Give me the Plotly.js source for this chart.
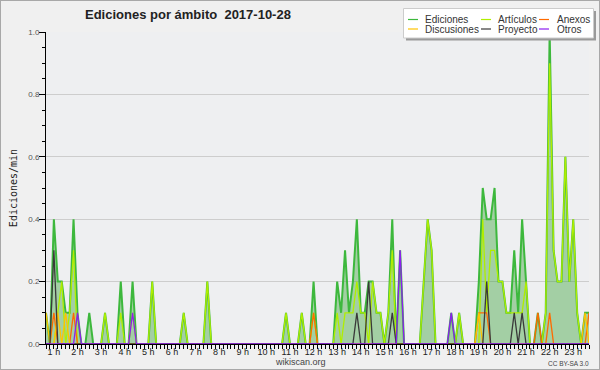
<!DOCTYPE html>
<html>
<head>
<meta charset="utf-8">
<script src="https://cdn.plot.ly/plotly-3.0.1.min.js"></script>
<style>
html, body { margin: 0; padding: 0; background: #ffffff; }
#chart { width: 598px; height: 368px; border: 1px solid #a8a8a8; }
</style>
</head>
<body>
<div id="chart"></div>
<script>
// ---- DATA: edits per minute, 10-minute bins from 00:40 (bin 4) to 23:40 (bin 142) ----
const firstBin = 4;
const lastBin = 142;
const hourTicks = [1,2,3,4,5,6,7,8,9,10,11,12,13,14,15,16,17,18,19,20,21,22,23];
const hourLabels = ['1 h','2 h','3 h','4 h','5 h','6 h','7 h','8 h','9 h','10 h','11 h','12 h',
                    '13 h','14 h','15 h','16 h','17 h','18 h','19 h','20 h','21 h','22 h','23 h'];
const seriesNames  = ['Ediciones', 'Artículos', 'Anexos', 'Discusiones', 'Proyecto', 'Otros'];
const seriesColors = ['#3db83d', '#b0ee00', '#ff6a00', '#ffc400', '#3a3a3a', '#8c1ef0'];

// one row per hour (:00 :10 :20 :30 :40 :50); first row starts at 00:40
const ediciones = [
  0.1, 0,
  0.4, 0.2, 0.2, 0.1, 0.1, 0.4,
  0.1, 0, 0, 0.1, 0, 0,
  0, 0.1, 0, 0, 0, 0.2,
  0, 0, 0.2, 0, 0, 0,
  0, 0.2, 0, 0, 0, 0,
  0, 0, 0, 0.1, 0, 0,
  0, 0, 0, 0.2, 0, 0,
  0, 0, 0, 0, 0, 0,
  0, 0, 0, 0, 0, 0,
  0, 0, 0, 0, 0, 0.1,
  0, 0, 0, 0.1, 0, 0,
  0.2, 0, 0, 0, 0, 0,
  0.2, 0.1, 0.3, 0.1, 0.2, 0.4,
  0.1, 0.1, 0.2, 0.2, 0.1, 0.1,
  0, 0.1, 0.4, 0, 0.3, 0,
  0, 0, 0, 0, 0.2, 0.4,
  0.3, 0, 0, 0, 0, 0.1,
  0, 0.1, 0, 0, 0, 0,
  0.2, 0.5, 0.4, 0.4, 0.5, 0.2,
  0.2, 0.1, 0.1, 0.3, 0.1, 0.4,
  0.2, 0, 0, 0.1, 0, 0.1,
  1.0, 0.3, 0.2, 0.2, 0.6, 0.2,
  0.4, 0.1, 0, 0.1, 0.1
];
const articulos = [
  0, 0,
  0, 0.1, 0.2, 0, 0.1, 0.3,
  0, 0, 0, 0, 0, 0,
  0, 0.1, 0, 0, 0, 0.1,
  0, 0, 0.1, 0, 0, 0,
  0, 0.2, 0, 0, 0, 0,
  0, 0, 0, 0.1, 0, 0,
  0, 0, 0, 0.2, 0, 0,
  0, 0, 0, 0, 0, 0,
  0, 0, 0, 0, 0, 0,
  0, 0, 0, 0, 0, 0.1,
  0, 0, 0, 0.1, 0, 0,
  0.1, 0, 0, 0, 0, 0,
  0.1, 0, 0.1, 0.1, 0.1, 0.2,
  0.1, 0.1, 0, 0.2, 0.1, 0.1,
  0, 0.1, 0.3, 0, 0, 0,
  0, 0, 0, 0, 0.2, 0.4,
  0.3, 0, 0, 0, 0, 0,
  0, 0.1, 0, 0, 0, 0,
  0, 0.4, 0.1, 0.3, 0.3, 0.2,
  0.2, 0.1, 0.1, 0.1, 0.1, 0.1,
  0.2, 0, 0, 0, 0, 0.1,
  0.9, 0.3, 0.2, 0.2, 0.6, 0.2,
  0.4, 0.1, 0, 0, 0
];
const anexos = [
  0, 0,
  0.1, 0, 0, 0, 0, 0.1,
  0, 0, 0, 0, 0, 0,
  0, 0, 0, 0, 0, 0,
  0, 0, 0, 0, 0, 0,
  0, 0, 0, 0, 0, 0,
  0, 0, 0, 0, 0, 0,
  0, 0, 0, 0, 0, 0,
  0, 0, 0, 0, 0, 0,
  0, 0, 0, 0, 0, 0,
  0, 0, 0, 0, 0, 0,
  0, 0, 0, 0, 0, 0,
  0.1, 0, 0, 0, 0, 0,
  0, 0, 0, 0, 0, 0,
  0, 0, 0, 0, 0, 0,
  0, 0, 0, 0, 0, 0,
  0, 0, 0, 0, 0, 0,
  0, 0, 0, 0, 0, 0,
  0, 0, 0, 0, 0, 0,
  0.1, 0.1, 0.1, 0, 0, 0,
  0, 0, 0, 0, 0, 0,
  0, 0, 0, 0.1, 0, 0,
  0.1, 0, 0, 0, 0, 0,
  0, 0, 0, 0, 0.1
];
const discusiones = [
  0.1, 0,
  0, 0.1, 0, 0.1, 0, 0,
  0, 0, 0, 0, 0, 0,
  0, 0, 0, 0, 0, 0,
  0, 0, 0, 0, 0, 0,
  0, 0, 0, 0, 0, 0,
  0, 0, 0, 0, 0, 0,
  0, 0, 0, 0, 0, 0,
  0, 0, 0, 0, 0, 0,
  0, 0, 0, 0, 0, 0,
  0, 0, 0, 0, 0, 0,
  0, 0, 0, 0, 0, 0,
  0, 0, 0, 0, 0, 0,
  0, 0, 0, 0, 0, 0,
  0, 0, 0, 0, 0, 0,
  0, 0, 0, 0, 0, 0,
  0, 0, 0, 0, 0, 0,
  0, 0, 0, 0, 0, 0,
  0, 0, 0, 0, 0, 0,
  0.1, 0, 0, 0, 0, 0,
  0, 0, 0, 0, 0, 0,
  0, 0, 0, 0, 0, 0,
  0, 0, 0, 0, 0, 0,
  0, 0, 0, 0.1, 0
];
const proyecto = [
  0, 0,
  0.3, 0, 0, 0, 0, 0,
  0, 0, 0, 0, 0, 0,
  0, 0, 0, 0, 0, 0,
  0, 0, 0, 0, 0, 0,
  0, 0, 0, 0, 0, 0,
  0, 0, 0, 0, 0, 0,
  0, 0, 0, 0, 0, 0,
  0, 0, 0, 0, 0, 0,
  0, 0, 0, 0, 0, 0,
  0, 0, 0, 0, 0, 0,
  0, 0, 0, 0, 0, 0,
  0, 0, 0, 0, 0, 0,
  0, 0, 0, 0, 0, 0.1,
  0, 0, 0.2, 0, 0, 0,
  0, 0, 0.1, 0, 0, 0,
  0, 0, 0, 0, 0, 0,
  0, 0, 0, 0, 0, 0,
  0, 0, 0, 0, 0, 0,
  0, 0, 0.2, 0, 0, 0,
  0, 0, 0, 0.1, 0, 0.1,
  0, 0, 0, 0, 0, 0,
  0, 0, 0, 0, 0, 0,
  0, 0, 0, 0, 0
];
const otros = [
  0, 0,
  0, 0, 0, 0, 0, 0,
  0.1, 0, 0, 0, 0, 0,
  0, 0, 0, 0, 0, 0,
  0, 0, 0.1, 0, 0, 0,
  0, 0, 0, 0, 0, 0,
  0, 0, 0, 0, 0, 0,
  0, 0, 0, 0, 0, 0,
  0, 0, 0, 0, 0, 0,
  0, 0, 0, 0, 0, 0,
  0, 0, 0, 0, 0, 0,
  0, 0, 0, 0, 0, 0,
  0, 0, 0, 0, 0, 0,
  0, 0, 0, 0, 0, 0,
  0, 0, 0, 0, 0, 0,
  0, 0, 0, 0, 0.3, 0,
  0, 0, 0, 0, 0, 0,
  0, 0, 0, 0, 0, 0.1,
  0, 0, 0, 0, 0, 0,
  0, 0, 0, 0, 0, 0,
  0, 0, 0, 0, 0, 0,
  0, 0, 0, 0, 0, 0,
  0, 0, 0, 0, 0, 0,
  0, 0, 0, 0, 0
];
const seriesValues = [ediciones, articulos, anexos, discusiones, proyecto, otros];

// bin positions in hours (10-minute bins)
const times = [];
for (let b = firstBin; b <= lastBin; b++) times.push(b / 6);

// ---- LAYOUT helpers (page pixels -> paper coords) ----
const FIG_W = 598, FIG_H = 368;
const L = 45, T = 31, W = 543, H = 312;
const R = FIG_W - L - W, B = FIG_H - T - H;
function px(x) { return (x - 1 - L) / W; }
function py(y) { return (T + H - (y - 1)) / H; }

const FONT = 'Liberation Sans, Arial, sans-serif';

const traces = seriesValues.map((vals, i) => {
  const t = {
    type: 'scatter', mode: 'lines', name: seriesNames[i],
    x: times, y: vals, showlegend: false, hoverinfo: 'skip',
    line: { color: seriesColors[i], width: i === 0 ? 2 : 1.3 }
  };
  if (i === 0) { t.fill = 'tozeroy'; t.fillcolor = 'rgba(50,160,50,0.40)'; }
  return t;
});

// manual legend (3 columns x 2 rows) built from series names/colours
const shapes = [
  { type: 'rect', xref: 'paper', yref: 'paper', x0: px(406), x1: px(596), y0: py(40.5), y1: py(11),
    fillcolor: '#9a9a9a', line: { width: 0 }, layer: 'above' },
  { type: 'rect', xref: 'paper', yref: 'paper', x0: px(403.5), x1: px(593.5), y0: py(38), y1: py(8.5),
    fillcolor: '#ffffff', line: { color: '#cccccc', width: 1 }, layer: 'above' }
];
const annotations = [];
const colLineX = [408, 481, 539];
const colTextX = [423, 495.5, 554.5];
const rowY = [19.5, 29];
seriesNames.forEach((name, i) => {
  const c = i % 3, r = Math.floor(i / 3);
  shapes.push({ type: 'line', xref: 'paper', yref: 'paper',
    x0: px(colLineX[c]), x1: px(colLineX[c] + 10), y0: py(rowY[r]), y1: py(rowY[r]),
    line: { color: seriesColors[i], width: 1.2 }, layer: 'above' });
  annotations.push({ xref: 'paper', yref: 'paper', x: px(colTextX[c]), y: py(rowY[r]),
    xanchor: 'left', yanchor: 'middle', showarrow: false, text: name,
    font: { family: FONT, size: 10, color: '#333333' } });
});
annotations.push({ xref: 'paper', yref: 'paper', x: px(300), y: py(362), xanchor: 'center', yanchor: 'middle',
  showarrow: false, text: 'wikiscan.org', font: { family: FONT, size: 9, color: '#444444' } });
annotations.push({ xref: 'paper', yref: 'paper', x: px(591), y: py(363), xanchor: 'right', yanchor: 'middle',
  showarrow: false, text: 'CC BY-SA 3.0', font: { family: FONT, size: 6.5, color: '#444444' } });

const layout = {
  width: FIG_W, height: FIG_H,
  margin: { l: L, r: R, t: T, b: B, pad: 0 },
  paper_bgcolor: '#f0f0f0', plot_bgcolor: '#eeeff1',
  showlegend: false,
  title: { text: 'Ediciones por ámbito\u00a0\u00a02017-10-28', xref: 'container', yref: 'container',
    x: 84 / FIG_W, xanchor: 'left', y: 1 - 13 / FIG_H, yanchor: 'middle',
    font: { family: FONT, size: 13, weight: 'bold', color: '#222222' } },
  xaxis: {
    range: [firstBin / 6, lastBin / 6], tickmode: 'array', tickvals: hourTicks, ticktext: hourLabels,
    ticks: 'outside', ticklen: 4, tickcolor: '#000', tickwidth: 1,
    tickfont: { family: FONT, size: 9, color: '#222222' }, ticklabelstandoff: -5,
    showline: true, linecolor: '#000', linewidth: 1, showgrid: false, zeroline: false,
    minor: { tickmode: 'linear', tick0: 0, dtick: 1 / 6, ticks: 'outside', ticklen: 4, tickcolor: '#000', showgrid: false },
    fixedrange: true, automargin: false
  },
  yaxis: {
    range: [0, 1], tickmode: 'linear', tick0: 0, dtick: 0.2, tickformat: '.1f',
    ticks: 'outside', ticklen: 6, tickcolor: '#000', tickwidth: 1,
    tickfont: { family: FONT, size: 8, color: '#555555' }, ticklabelstandoff: -2,
    showline: true, linecolor: '#000', linewidth: 1,
    showgrid: true, gridcolor: '#cdcdcd', gridwidth: 1, zeroline: false,
    minor: { tickmode: 'linear', tick0: 0, dtick: 0.05, ticks: 'outside', ticklen: 3, tickcolor: '#000', showgrid: false },
    title: { text: 'Ediciones/min', standoff: 8, font: { family: 'DejaVu Sans Mono, monospace', size: 10, color: '#222222' } },
    fixedrange: true, automargin: false
  },
  shapes: shapes,
  annotations: annotations
};

Plotly.newPlot('chart', traces, layout, { displayModeBar: false, staticPlot: true });
</script>
</body>
</html>
